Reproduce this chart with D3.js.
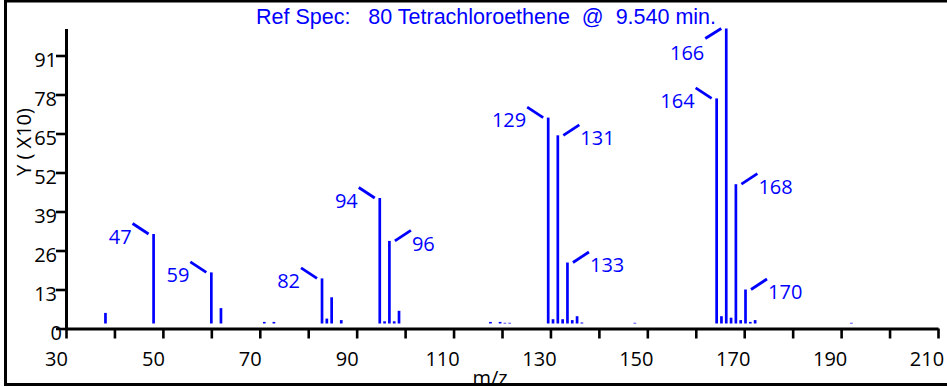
<!DOCTYPE html>
<html>
<head>
<meta charset="utf-8">
<script src="https://cdn.jsdelivr.net/npm/d3@7"></script>
<style>
  html, body { margin: 0; padding: 0; background: #fff; }
  svg { display: block; }
</style>
</head>
<body>
<div id="chart"></div>
<script>
// Reference spectrum data (abundance normalised to 100)
const title = 'Ref Spec:   80 Tetrachloroethene  @  9.540 min.';
const mz = [37, 47, 59, 61, 70, 72, 82, 83, 84, 86, 94, 95, 96, 97, 98,
    117, 119, 120, 121, 129, 130, 131, 132, 133, 134, 135, 136, 147,
    164, 165, 166, 167, 168, 169, 170, 171, 172, 192];
const abundance = [5.2, 31.5, 18.7, 6.8, 2.2, 2.2, 16.7, 3.3, 10.4, 2.8, 43.5, 2.4, 29.2, 2.4, 5.9,
    2.2, 2.2, 1.9, 1.9, 70.3, 3.1, 64.4, 3.1, 22.0, 2.8, 4.1, 2.0, 1.9,
    76.7, 4.1, 100, 3.6, 48.1, 2.8, 13.0, 2.2, 2.8, 1.9];
const labeledMz = [47, 59, 82, 94, 96, 129, 131, 133, 164, 166, 168, 170];
const labelSide = ['left', 'left', 'left', 'left', 'right', 'left', 'right', 'right', 'left', 'below', 'right', 'right'];
const xTickValues = [30, 40, 50, 60, 70, 80, 90, 100, 110, 120, 130, 140, 150, 160, 170, 180, 190, 200, 210];
const xTickLabels = [30, 50, 70, 90, 110, 130, 150, 170, 190, 210];
const yTickValues = [0, 13, 26, 39, 52, 65, 78, 91];

const width = 947, height = 387;
const plot = { left: 66, right: 938, top: 28.5, bottom: 328.5 };
const blue = '#0000ff';
const labelFont = '"Open Sans", "Noto Sans", sans-serif';

const peaks = mz.map((m, i) => ({ mz: m, value: abundance[i] }));
const labels = labeledMz.map((m, i) => ({ mz: m, side: labelSide[i], value: abundance[mz.indexOf(m)] }));

const svg = d3.select('#chart')
    .append('svg')
    .attr('width', width)
    .attr('height', height);

// Axis grid runs 30..210, while the data window starts a bit lower (instrument style)
const xAxisScale = d3.scaleLinear().domain([30, 210]).range([plot.left, plot.right]);
const x = d3.scaleLinear().domain([28.8, 210]).range([plot.left, plot.right]);
const y = d3.scaleLinear().domain([0, 100]).range([plot.bottom, plot.top]);

// Title
svg.append('text')
    .attr('x', 486)
    .attr('y', 24)
    .attr('text-anchor', 'middle')
    .style('white-space', 'pre')
    .style('font-family', '"Liberation Sans", Arial, sans-serif')
    .style('font-size', '21.5px')
    .attr('fill', blue)
    .text(title);

// X axis
const xAxis = svg.append('g')
    .attr('transform', `translate(0,${plot.bottom})`)
    .call(d3.axisBottom(xAxisScale)
        .tickValues(xTickValues)
        .tickSize(10)
        .tickSizeOuter(0)
        .tickFormat(d => xTickLabels.includes(d) ? d : ''));
xAxis.select('.domain').attr('stroke-width', 3);
xAxis.selectAll('.tick line').attr('stroke-width', 2.6);
xAxis.selectAll('.tick text')
    .attr('y', 37)
    .attr('dy', null)
    .attr('dx', d => d < 100 ? -10 : -11.5)
    .style('font-family', labelFont)
    .style('font-size', '20px')
    .attr('fill', '#000');

// Y axis
const yAxis = svg.append('g')
    .attr('transform', `translate(${plot.left},0)`)
    .call(d3.axisLeft(y)
        .tickValues(yTickValues)
        .tickSize(10)
        .tickPadding(-1)
        .tickSizeOuter(0));
yAxis.select('.domain').attr('stroke-width', 3);
yAxis.selectAll('.tick line').attr('stroke-width', 2.6);
yAxis.selectAll('.tick text')
    .attr('y', 5)
    .attr('dx', d => d < 10 ? 5 : 0)
    .style('font-family', labelFont)
    .style('font-size', '20px')
    .attr('fill', '#000');

// Axis titles
svg.append('text')
    .attr('transform', 'translate(31,142) rotate(-90)')
    .attr('text-anchor', 'middle')
    .style('font-family', labelFont)
    .style('font-size', '20px')
    .text('Y ( X10)');

// m/z sits partly under the frame, as in the source plot
svg.append('text')
    .attr('x', 490)
    .attr('y', 385)
    .attr('text-anchor', 'middle')
    .style('font-family', labelFont)
    .style('font-size', '20px')
    .text('m/z');

// Peaks (sticks start just above the axis line)
svg.append('g')
    .selectAll('line')
    .data(peaks)
    .join('line')
    .attr('x1', d => x(d.mz))
    .attr('x2', d => x(d.mz))
    .attr('y1', y(0) - 5)
    .attr('y2', d => y(d.value))
    .attr('stroke', blue)
    .attr('stroke-width', 2.7);

// Peak labels with leader lines
const lab = svg.append('g')
    .selectAll('g')
    .data(labels)
    .join('g')
    .attr('transform', d => `translate(${x(d.mz)},${y(d.value)})`);

lab.append('line')
    .attr('x1', d => d.side === 'right' ? 5.5 : -5)
    .attr('y1', 0)
    .attr('x2', d => d.side === 'right' ? 21.5 : -21)
    .attr('y2', d => d.side === 'below' ? 10 : -10.5)
    .attr('stroke', blue)
    .attr('stroke-width', 2.8);

lab.append('text')
    .attr('x', d => d.side === 'right' ? 22.5 : -22)
    .attr('y', d => d.side === 'below' ? 31 : 9.7)
    .attr('text-anchor', d => d.side === 'right' ? 'start' : 'end')
    .style('font-family', labelFont)
    .style('font-size', '20px')
    .attr('fill', blue)
    .text(d => d.mz);

// Outer frame
svg.append('rect')
    .attr('x', 5.5)
    .attr('y', 1)
    .attr('width', width + 20)
    .attr('height', 383.5)
    .attr('fill', 'none')
    .attr('stroke', '#000')
    .attr('stroke-width', 3);
</script>
</body>
</html>
